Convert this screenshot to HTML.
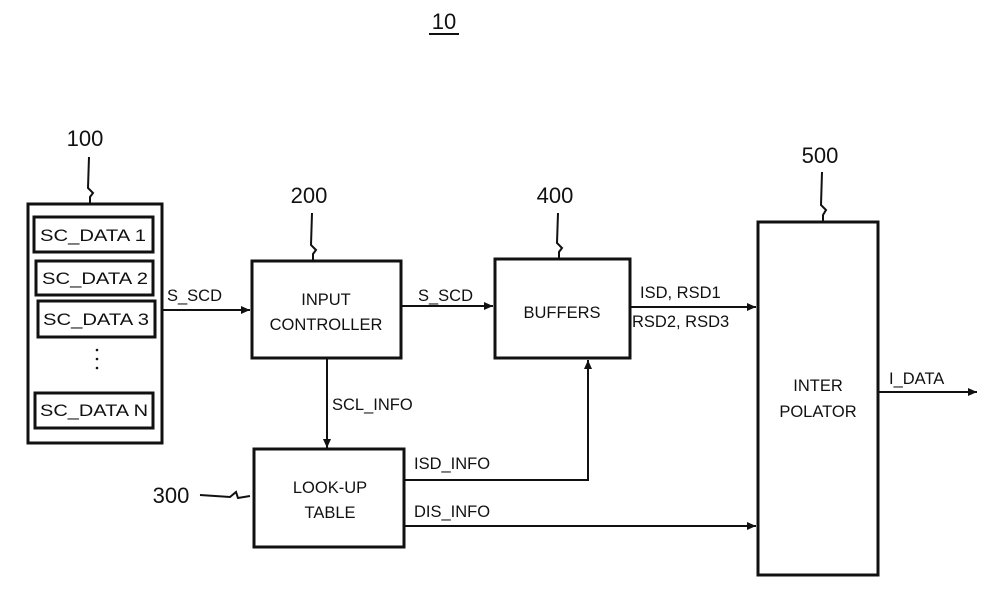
<!DOCTYPE html>
<html><head><meta charset="utf-8"><style>
html,body{margin:0;padding:0;background:#fff;}
svg{display:block;}
text{font-family:"Liberation Sans",sans-serif;fill:#111;}
</style></head><body>
<svg width="990" height="601" viewBox="0 0 990 601" xmlns="http://www.w3.org/2000/svg">
<defs><marker id="a" markerWidth="10" markerHeight="10" refX="9" refY="5" orient="auto" markerUnits="userSpaceOnUse"><path d="M0,1 L9,5 L0,9 z" fill="#111"/></marker></defs>
<g font-size="16">
<text x="444" y="29" font-size="22" text-anchor="middle">10</text>
<line x1="429" y1="34" x2="459" y2="34" stroke="#111" stroke-width="2"/>
<text x="85" y="146" font-size="22" text-anchor="middle">100</text>
<text x="309" y="203" font-size="22" text-anchor="middle">200</text>
<text x="555" y="203" font-size="22" text-anchor="middle">400</text>
<text x="820" y="163" font-size="22" text-anchor="middle">500</text>
<text x="171" y="503" font-size="22" text-anchor="middle">300</text>
</g>
<g fill="none" stroke="#111" stroke-width="2">
<path d="M89,157 L88,188 L93,193 L90,197 L90,203"/>
<path d="M312,213 L311,245 L316,250 L313,254 L313,260"/>
<path d="M558,213 L557,243 L562,248 L559,252 L559,258"/>
<path d="M822,172 L821,205 L826,210 L823,215 L823,222"/>
<path d="M200,495 L230,497 L236,492 L238,498 L250,496"/>
</g>
<g fill="none" stroke="#111" stroke-width="3">
<rect x="28" y="204" width="134" height="239"/>
<rect x="34" y="217" width="119" height="35"/>
<rect x="36" y="261" width="117" height="34"/>
<rect x="38" y="301" width="117" height="36"/>
<rect x="35" y="393" width="118" height="35"/>
<rect x="252" y="261" width="149" height="97"/>
<rect x="254" y="449" width="150" height="98"/>
<rect x="495" y="259" width="135" height="99"/>
<rect x="758" y="222" width="120" height="353"/>
</g>
<g stroke="#111" stroke-width="2" fill="none">
<line x1="162" y1="310" x2="250" y2="310" marker-end="url(#a)"/>
<line x1="401" y1="306" x2="493" y2="306" marker-end="url(#a)"/>
<line x1="630" y1="307" x2="756" y2="307" marker-end="url(#a)"/>
<line x1="878" y1="392" x2="977" y2="392" marker-end="url(#a)"/>
<line x1="327" y1="358" x2="327" y2="448" marker-end="url(#a)"/>
<polyline points="404,480 588,480 588,360" marker-end="url(#a)"/>
<line x1="404" y1="526" x2="756" y2="526" marker-end="url(#a)"/>
</g>
<circle cx="97" cy="350" r="1.3" fill="#111"/><circle cx="97" cy="359" r="1.3" fill="#111"/><circle cx="97" cy="368" r="1.3" fill="#111"/>
<g font-size="16.5">
<text x="93" y="241" text-anchor="middle" textLength="106" lengthAdjust="spacingAndGlyphs">SC_DATA 1</text>
<text x="95" y="284" text-anchor="middle" textLength="106" lengthAdjust="spacingAndGlyphs">SC_DATA 2</text>
<text x="96" y="325" text-anchor="middle" textLength="106" lengthAdjust="spacingAndGlyphs">SC_DATA 3</text>
<text x="94" y="416" text-anchor="middle" textLength="108" lengthAdjust="spacingAndGlyphs">SC_DATA N</text>
<text x="167" y="301">S_SCD</text>
<text x="418" y="301">S_SCD</text>
<text x="326" y="305" text-anchor="middle">INPUT</text>
<text x="326" y="330" text-anchor="middle">CONTROLLER</text>
<text x="562" y="318" text-anchor="middle">BUFFERS</text>
<text x="640" y="298">ISD, RSD1</text>
<text x="632" y="327">RSD2, RSD3</text>
<text x="332" y="410">SCL_INFO</text>
<text x="330" y="493" text-anchor="middle">LOOK-UP</text>
<text x="330" y="518" text-anchor="middle">TABLE</text>
<text x="414" y="469">ISD_INFO</text>
<text x="414" y="517">DIS_INFO</text>
<text x="818" y="391" text-anchor="middle">INTER</text>
<text x="818" y="417" text-anchor="middle">POLATOR</text>
<text x="889" y="384">I_DATA</text>
</g>
</svg>
</body></html>
